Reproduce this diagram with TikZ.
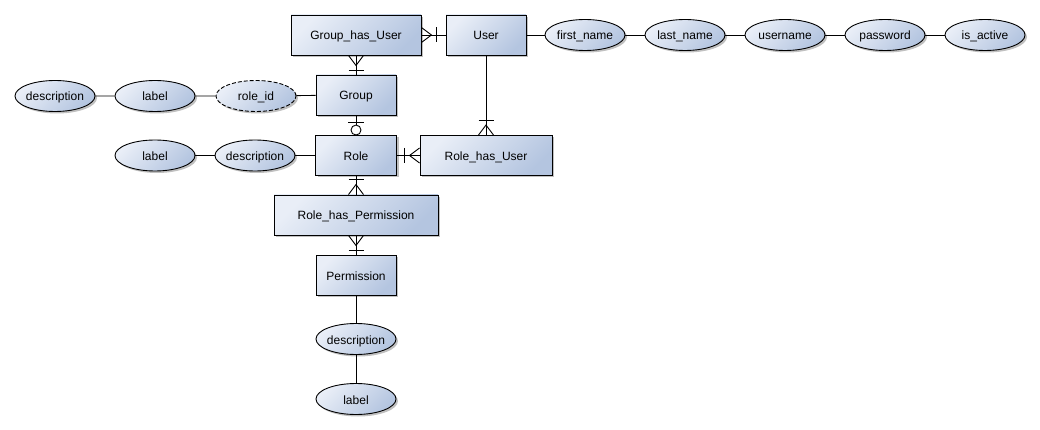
\documentclass[tikz,border=0pt]{standalone}
\usepackage{fontspec}
\setmainfont{Liberation Sans}
\usetikzlibrary{shapes.geometric,shadows}
\definecolor{erlight}{HTML}{E9EEF7}
\definecolor{erdark}{HTML}{B4C5E0}
\tikzset{
  base/.style={draw=black, line width=0.9pt, top color=erlight, bottom color=erdark, shading angle=45,
    drop shadow={shadow xshift=2pt, shadow yshift=-2pt, fill=black!55, opacity=0.45},
    font=\fontsize{12}{14}\selectfont, inner sep=0pt, text height=10pt, text depth=0pt},
  entity/.style={base, rectangle, minimum height=40pt},
  attr/.style={base, ellipse, minimum width=80pt, minimum height=31pt, inner xsep=-4pt, inner ysep=0pt},
  keyattr/.style={attr, dash pattern=on 4pt off 2pt},
  link/.style={line width=0.9pt},
}
\begin{document}
\begin{tikzpicture}[x=1pt, y=-1pt]
\useasboundingbox (0,0) rectangle (1040,430);
% entities
\node[entity, minimum width=130pt] (GHU) at (356,35) {Group\_has\_User};
\node[entity, minimum width=80pt] (User) at (486,35) {User};
\node[entity, minimum width=80pt] (Group) at (356,95) {Group};
\node[entity, minimum width=81pt] (Role) at (356,155.5) {Role};
\node[entity, minimum width=132pt] (RHU) at (486,155.5) {Role\_has\_User};
\node[entity, minimum width=164pt] (RHP) at (356,215) {Role\_has\_Permission};
\node[entity, minimum width=80pt] (Perm) at (356,275) {Permission};
% attributes
\node[attr] (gdesc) at (55,96) {description};
\node[attr] (glabel) at (155,96) {label};
\node[keyattr] (groleid) at (256,96) {role\_id};
\node[attr] (rlabel) at (155,155.5) {label};
\node[attr] (rdesc) at (255,155.5) {description};
\node[attr] (ufirst) at (585,35) {first\_name};
\node[attr] (ulast) at (685,35) {last\_name};
\node[attr] (uname) at (785,35) {username};
\node[attr] (upass) at (885,35) {password};
\node[attr] (uactive) at (985,35) {is\_active};
\node[attr] (pdesc) at (356,339) {description};
\node[attr] (plabel) at (356,399) {label};
% plain links
\draw[link] (gdesc) -- (glabel) -- (groleid) -- (Group);
\draw[link] (rlabel) -- (rdesc) -- (Role);
\draw[link] (User) -- (ufirst) -- (ulast) -- (uname) -- (upass) -- (uactive);
\draw[link] (Perm) -- (pdesc) -- (plabel);
% Group_has_User -- User (one or many at Group_has_User)
\draw[link] (GHU.east) -- (User.west);
\draw[link] ([yshift=7.5pt]GHU.east) -- ([xshift=10pt]GHU.east) -- ([yshift=-7.5pt]GHU.east);
\draw[link] ([xshift=15pt,yshift=7.5pt]GHU.east) -- ([xshift=15pt,yshift=-7.5pt]GHU.east);
% Group_has_User -- Group
\draw[link] (GHU.south) -- (Group.north);
\draw[link] ([xshift=-7.5pt]GHU.south) -- ([yshift=-10pt]GHU.south) -- ([xshift=7.5pt]GHU.south);
\draw[link] ([xshift=-7.5pt,yshift=-15pt]GHU.south) -- ([xshift=7.5pt,yshift=-15pt]GHU.south);
% Group -- Role
\draw[link] (Group.south) -- (Role.north);
\draw[link] ([xshift=-8pt,yshift=-7pt]Group.south) -- ([xshift=8pt,yshift=-7pt]Group.south);
\draw[link, fill=white] ([yshift=5pt]Role.north) circle[radius=5pt];
% User -- Role_has_User
\draw[link] (User.south) -- (RHU.north);
\draw[link] ([xshift=-7.5pt]RHU.north) -- ([yshift=10pt]RHU.north) -- ([xshift=7.5pt]RHU.north);
\draw[link] ([xshift=-7.5pt,yshift=15pt]RHU.north) -- ([xshift=7.5pt,yshift=15pt]RHU.north);
% Role -- Role_has_User
\draw[link] (Role.east) -- (RHU.west);
\draw[link] ([yshift=7.5pt]RHU.west) -- ([xshift=-10pt]RHU.west) -- ([yshift=-7.5pt]RHU.west);
\draw[link] ([xshift=-15pt,yshift=7.5pt]RHU.west) -- ([xshift=-15pt,yshift=-7.5pt]RHU.west);
% Role -- Role_has_Permission
\draw[link] (Role.south) -- (RHP.north);
\draw[link] ([xshift=-7.5pt]RHP.north) -- ([yshift=10pt]RHP.north) -- ([xshift=7.5pt]RHP.north);
\draw[link] ([xshift=-7.5pt,yshift=15pt]RHP.north) -- ([xshift=7.5pt,yshift=15pt]RHP.north);
% Role_has_Permission -- Permission
\draw[link] (RHP.south) -- (Perm.north);
\draw[link] ([xshift=-7.5pt]RHP.south) -- ([yshift=-10pt]RHP.south) -- ([xshift=7.5pt]RHP.south);
\draw[link] ([xshift=-7.5pt,yshift=-15pt]RHP.south) -- ([xshift=7.5pt,yshift=-15pt]RHP.south);
\end{tikzpicture}
\end{document}
